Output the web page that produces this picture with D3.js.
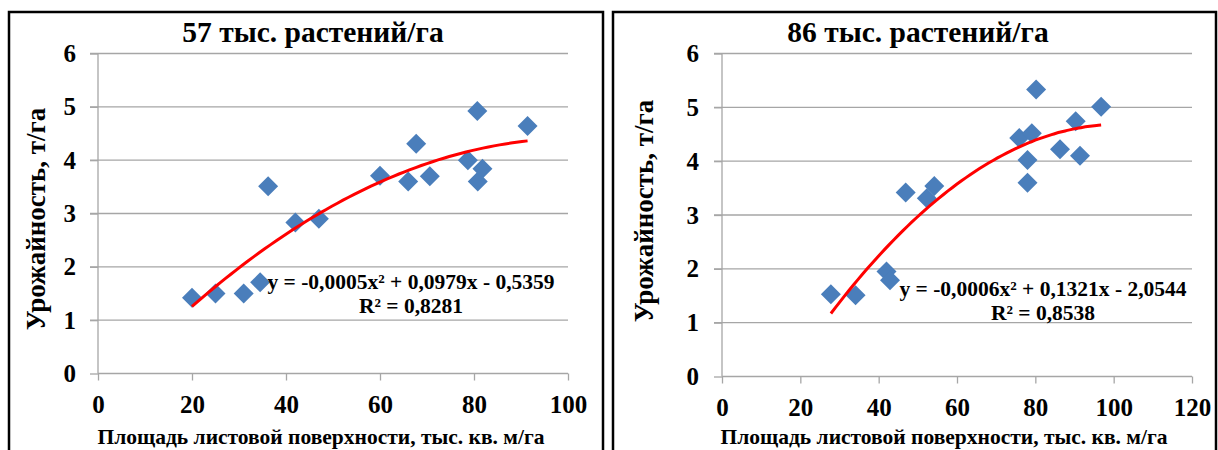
<!DOCTYPE html>
<html>
<head>
<meta charset="utf-8">
<script src="https://cdn.jsdelivr.net/npm/d3@7"></script>
<style>
  body { margin: 0; background: #fff; }
  svg text { font-family: "Liberation Serif", "Times New Roman", serif; font-weight: bold; fill: #000; }
</style>
</head>
<body>
<div id="container"></div>
<script>
/* DATA */
const titles = ["57 тыс. растений/га", "86 тыс. растений/га"];
const yTitle = "Урожайность, т/га";
const xTitle = "Площадь листовой поверхности, тыс. кв. м/га";

// 57 thousand plants/ha
const leafArea57 = [20, 25, 31, 34.5, 36.2, 42, 47, 60, 66, 67.7, 70.6, 78.7, 80.7, 80.8, 81.8, 91.4];
const yield57    = [1.42, 1.5, 1.5, 1.71, 3.51, 2.83, 2.9, 3.71, 3.6, 4.31, 3.7, 4.0, 4.92, 3.6, 3.84, 4.64];
const equation57 = ["y = -0,0005x² + 0,0979x - 0,5359", "R² = 0,8281"];

// 86 thousand plants/ha
const leafArea86 = [27.8, 34.1, 42.0, 42.9, 46.9, 52.3, 54.2, 75.9, 79.1, 78.0, 78.0, 80.2, 86.3, 90.3, 91.4, 96.8];
const yield86    = [1.53, 1.51, 1.95, 1.79, 3.42, 3.31, 3.54, 4.43, 4.52, 4.02, 3.6, 5.33, 4.22, 4.74, 4.1, 5.01];
const equation86 = ["y = -0,0006x² + 0,1321x - 2,0544", "R² = 0,8538"];

const xTicks57 = [0, 20, 40, 60, 80, 100];
const xTicks86 = [0, 20, 40, 60, 80, 100, 120];
const yTicks = [0, 1, 2, 3, 4, 5, 6];

/* helpers */
// least squares quadratic fit -> [a, b, c] for a*x^2 + b*x + c
function quadFit(xs, ys) {
  let s = [0, 0, 0, 0, 0], t = [0, 0, 0];
  xs.forEach((x, i) => {
    for (let k = 0; k < 5; k++) s[k] += Math.pow(x, k);
    for (let k = 0; k < 3; k++) t[k] += Math.pow(x, k) * ys[i];
  });
  const m = [
    [s[0], s[1], s[2], t[0]],
    [s[1], s[2], s[3], t[1]],
    [s[2], s[3], s[4], t[2]]
  ];
  for (let i = 0; i < 3; i++) {
    for (let j = i + 1; j < 3; j++) {
      const f = m[j][i] / m[i][i];
      for (let k = i; k < 4; k++) m[j][k] -= f * m[i][k];
    }
  }
  const r = [0, 0, 0];
  for (let i = 2; i >= 0; i--) {
    let v = m[i][3];
    for (let k = i + 1; k < 3; k++) v -= m[i][k] * r[k];
    r[i] = v / m[i][i];
  }
  return [r[2], r[1], r[0]];
}

const svg = d3.select("#container").append("svg")
  .attr("width", 1218)
  .attr("height", 450)
  .attr("font-family", "Liberation Serif");

function drawPanel(cfg) {
  const g = svg.append("g");

  // frame
  g.append("rect")
    .attr("x", cfg.frame[0]).attr("y", 12)
    .attr("width", cfg.frame[1] - cfg.frame[0]).attr("height", 460)
    .attr("fill", "#fff").attr("stroke", "#000").attr("stroke-width", 2.5);

  const x = d3.scaleLinear().domain([0, d3.max(cfg.xTicks)]).range([cfg.left, cfg.right]);
  const y = d3.scaleLinear().domain([0, 6]).range([cfg.bottom, 53.5]);

  // gridlines
  g.append("g").selectAll("line")
    .data(yTicks.filter(d => d > 0))
    .join("line")
    .attr("x1", cfg.left - 8).attr("x2", cfg.right)
    .attr("y1", d => y(d)).attr("y2", d => y(d))
    .attr("stroke", "#a6a6a6").attr("stroke-width", 1.3);

  // y axis
  const yAxis = g.append("g")
    .attr("transform", `translate(${cfg.left},0)`)
    .call(d3.axisLeft(y).tickValues(yTicks).tickSize(8).tickPadding(cfg.yPad).tickFormat(d3.format("d")));
  yAxis.attr("font-family", null);
  yAxis.selectAll("line").attr("stroke", "#a6a6a6").attr("stroke-width", 1.3);
  yAxis.select(".domain").attr("stroke", "#a6a6a6").attr("stroke-width", 1.3).attr("d", `M0,${y(6)}V${y(0)}`);
  yAxis.selectAll("text").attr("font-size", 25);

  // x axis
  const xAxis = g.append("g")
    .attr("transform", `translate(0,${cfg.bottom})`)
    .call(d3.axisBottom(x).tickValues(cfg.xTicks).tickSize(7).tickPadding(15));
  xAxis.attr("font-family", null);
  xAxis.selectAll("line").attr("stroke", "#a6a6a6").attr("stroke-width", 1.3);
  xAxis.select(".domain").attr("stroke", "#a6a6a6").attr("stroke-width", 1.3).attr("d", `M${x(0)},0H${cfg.right}`);
  xAxis.selectAll("text").attr("font-size", 25);

  // points
  const pts = cfg.xs.map((v, i) => ({ x: v, y: cfg.ys[i] }));
  g.append("g").selectAll("path")
    .data(pts)
    .join("path")
    .attr("d", d3.symbol(d3.symbolSquare, 200))
    .attr("transform", d => `translate(${x(d.x)},${y(d.y)}) rotate(45)`)
    .attr("fill", "#4a7ebb");

  // trend line
  const [a, b, c] = quadFit(cfg.xs, cfg.ys);
  const [x0, x1] = d3.extent(cfg.xs);
  const trend = d3.range(0, 61).map(i => {
    const xv = x0 + (x1 - x0) * i / 60;
    return [xv, a * xv * xv + b * xv + c];
  });
  g.append("path")
    .datum(trend)
    .attr("d", d3.line().x(d => x(d[0])).y(d => y(d[1])).curve(d3.curveMonotoneX))
    .attr("fill", "none").attr("stroke", "#ff0000").attr("stroke-width", 3);

  // equation label
  g.append("text")
    .attr("x", cfg.eqX).attr("y", cfg.eqY)
    .attr("text-anchor", "middle").attr("font-size", 21.5)
    .selectAll("tspan")
    .data(cfg.equation)
    .join("tspan")
    .attr("x", cfg.eqX)
    .attr("dy", (d, i) => i === 0 ? 0 : 23.5)
    .text(d => d);

  // title
  g.append("text")
    .attr("x", cfg.titleX).attr("y", 42)
    .attr("text-anchor", "middle").attr("font-size", 29.5)
    .text(cfg.title);

  // y title
  g.append("text")
    .attr("transform", `translate(${cfg.yTitleX},${cfg.yTitleY}) rotate(-90)`)
    .attr("text-anchor", "middle").attr("font-size", 27)
    .text(yTitle);

  // x title
  g.append("text")
    .attr("x", cfg.xTitleX).attr("y", 444)
    .attr("text-anchor", "middle").attr("font-size", 21.5)
    .text(xTitle);
}

drawPanel({
  frame: [9, 603], left: 98, right: 568, bottom: 373.5, yPad: 14,
  xTicks: xTicks57, xs: leafArea57, ys: yield57, equation: equation57,
  eqX: 411, eqY: 289, title: titles[0], titleX: 313,
  yTitleX: 45, yTitleY: 219, xTitleX: 321
});

drawPanel({
  frame: [613, 1216], left: 722, right: 1192, bottom: 376.5, yPad: 15,
  xTicks: xTicks86, xs: leafArea86, ys: yield86, equation: equation86,
  eqX: 1043, eqY: 296, title: titles[1], titleX: 918,
  yTitleX: 653, yTitleY: 211, xTitleX: 944
});
</script>
</body>
</html>
